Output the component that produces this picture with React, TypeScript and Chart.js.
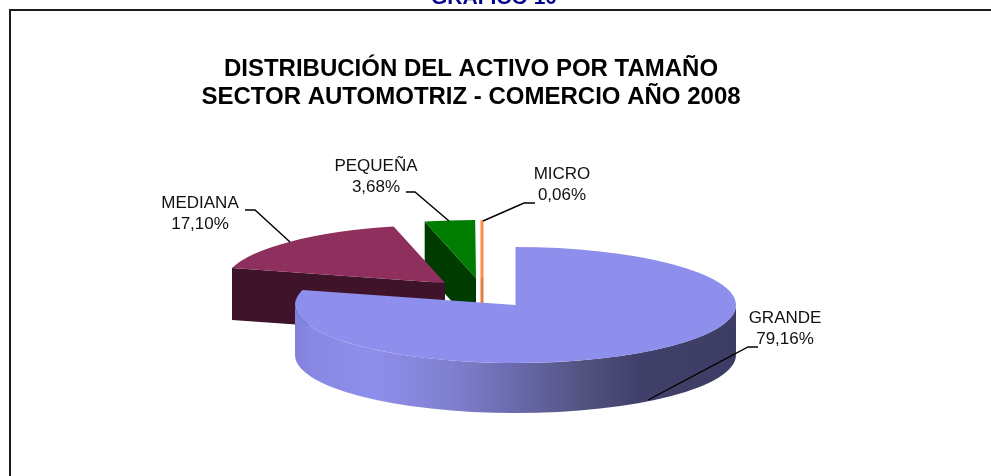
import React, { useEffect, useRef } from "react";
import { Chart, registerables } from "chart.js";

Chart.register(...registerables);

const categories = ["GRANDE", "MEDIANA", "PEQUEÑA", "MICRO"];
const shares = [79.16, 17.1, 3.68, 0.06];
const titleLines = ["DISTRIBUCIÓN DEL ACTIVO POR TAMAÑO", "SECTOR AUTOMOTRIZ - COMERCIO AÑO 2008"];
const pageHeading = "GRÁFICO 10";

const topColors = ["#8E8EEC", "#8E2F5E", "#007C00", "#FF8C40"];
const wallColors = ["#8484DC", "#3F142A", "#003C00", "#DC8040"];
const sideStops: [number, string][] = [
  [0, "#8282DC"],
  [0.04, "#8888E4"],
  [0.18, "#8E8EEC"],
  [0.35, "#8080D0"],
  [0.47, "#6E6EB4"],
  [0.66, "#52527F"],
  [0.78, "#40406A"],
  [1, "#3C3C64"],
];

const FONT = "'Liberation Sans', Arial, sans-serif";
const PIE = { cx: 515.5, cy: 305, rx: 220.5, ry: 58, depth: 50 };
const drawOrder = [3, 2, 1, 0];
const explode = [
  { dx: 0, dy: 0, depth: 50 },
  { dx: -70.5, dy: -22, depth: 52 },
  { dx: -39.5, dy: -27, depth: 50 },
  { dx: -33, dy: -27, depth: 50 },
];
const labelLayout = [
  { x: 785, y: 318, leader: [[758, 347], [748, 347], [648, 400]] },
  { x: 200, y: 203, leader: [[245, 210], [255, 210], [290, 242]] },
  { x: 376, y: 166, leader: [[406, 192], [415, 192], [449, 221]] },
  { x: 562, y: 174, leader: [[535, 203], [524, 203], [483, 221]] },
];

const pie3d = {
  id: "pie3d",
  beforeDatasetsDraw(chart: any) {
    const ctx: CanvasRenderingContext2D = chart.ctx;
    const arcs = chart.getDatasetMeta(0).data;
    drawOrder.forEach((i) => {
      const arc = arcs[i];
      const { x, y, startAngle, endAngle, outerRadius } = arc.getProps(
        ["x", "y", "startAngle", "endAngle", "outerRadius"],
        true
      );
      const ox = PIE.cx + explode[i].dx;
      const oy = PIE.cy + explode[i].dy;
      const px = (a: number) => ox + PIE.rx * Math.cos(a);
      const py = (a: number) => oy + PIE.ry * Math.sin(a);
      const d = explode[i].depth;
      const sliver = endAngle - startAngle < 0.02;

      if (sliver) {
        ctx.save();
        ctx.lineWidth = 3;
        ctx.strokeStyle = wallColors[i];
        ctx.beginPath();
        ctx.moveTo(ox - 0.5, oy);
        ctx.lineTo(ox - 0.5, oy + d);
        ctx.stroke();
        ctx.strokeStyle = topColors[i];
        ctx.beginPath();
        ctx.moveTo(ox - 0.5, py(startAngle));
        ctx.lineTo(ox - 0.5, oy);
        ctx.stroke();
        ctx.restore();
        return;
      }

      // Cut walls
      ctx.fillStyle = wallColors[i];
      if (Math.cos(startAngle) < -0.01) {
        ctx.beginPath();
        ctx.moveTo(ox, oy);
        ctx.lineTo(px(startAngle), py(startAngle));
        ctx.lineTo(px(startAngle), py(startAngle) + d);
        ctx.lineTo(ox, oy + d);
        ctx.closePath();
        ctx.fill();
      }
      // Outer wall on the near half of the ellipse
      const a0 = Math.max(startAngle, 0);
      const a1 = Math.min(endAngle, Math.PI);
      if (a1 > a0) {
        const g = ctx.createLinearGradient(PIE.cx - PIE.rx, 0, PIE.cx + PIE.rx, 0);
        sideStops.forEach(([s, c]) => g.addColorStop(s, c));
        ctx.fillStyle = g;
        ctx.beginPath();
        ctx.ellipse(ox, oy, PIE.rx, PIE.ry, 0, a0, a1, false);
        ctx.ellipse(ox, oy + d, PIE.rx, PIE.ry, 0, a1, a0, true);
        ctx.closePath();
        ctx.fill();
      }
      // Top face: the library's own arc element under a perspective squash
      ctx.save();
      ctx.translate(ox, oy);
      ctx.scale(PIE.rx / outerRadius, PIE.ry / outerRadius);
      ctx.translate(-x, -y);
      arc.draw(ctx);
      ctx.restore();
    });
    return false;
  },
  afterDraw(chart: any) {
    const ctx: CanvasRenderingContext2D = chart.ctx;
    ctx.save();
    // Page frame and clipped heading
    ctx.strokeStyle = "#1c1c1c";
    ctx.lineWidth = 2;
    ctx.beginPath();
    ctx.moveTo(10, chart.height);
    ctx.lineTo(10, 10);
    ctx.lineTo(chart.width, 10);
    ctx.stroke();
    ctx.fillStyle = "#00008C";
    ctx.font = `bold 21px ${FONT}`;
    ctx.textAlign = "center";
    ctx.textBaseline = "alphabetic";
    ctx.fillText(pageHeading, 494, 4);

    // Callouts
    ctx.strokeStyle = "#000";
    ctx.lineWidth = 1.4;
    ctx.fillStyle = "#111";
    ctx.font = `17px ${FONT}`;
    ctx.textBaseline = "middle";
    categories.forEach((name, i) => {
      const l = labelLayout[i];
      ctx.beginPath();
      l.leader.forEach(([x, y], k) => (k ? ctx.lineTo(x, y) : ctx.moveTo(x, y)));
      ctx.stroke();
      ctx.fillText(name, l.x, l.y);
      ctx.fillText(shares[i].toFixed(2).replace(".", ",") + "%", l.x, l.y + 21);
    });
    ctx.restore();
  },
};

export default function App() {
  const ref = useRef<HTMLCanvasElement>(null);
  useEffect(() => {
    const chart = new Chart(ref.current as HTMLCanvasElement, {
      type: "pie",
      data: {
        labels: categories,
        datasets: [{ data: shares, backgroundColor: topColors, borderWidth: 0 }],
      },
      options: {
        responsive: false,
        animation: false,
        layout: { padding: { right: 49 } },
        plugins: {
          legend: { display: false },
          tooltip: { enabled: false },
          title: {
            display: true,
            text: titleLines,
            color: "#000",
            font: { family: FONT, size: 24, weight: "bold", lineHeight: 27.5 / 24 },
            padding: { top: 56, bottom: 10 },
          },
        },
      },
      plugins: [pie3d],
    } as any);
    return () => chart.destroy();
  }, []);
  return (
    <div style={{ position: "fixed", left: 0, top: 0, width: 991, height: 476, background: "#fff" }}>
      <canvas ref={ref} width={991} height={476} style={{ display: "block" }} />
    </div>
  );
}
